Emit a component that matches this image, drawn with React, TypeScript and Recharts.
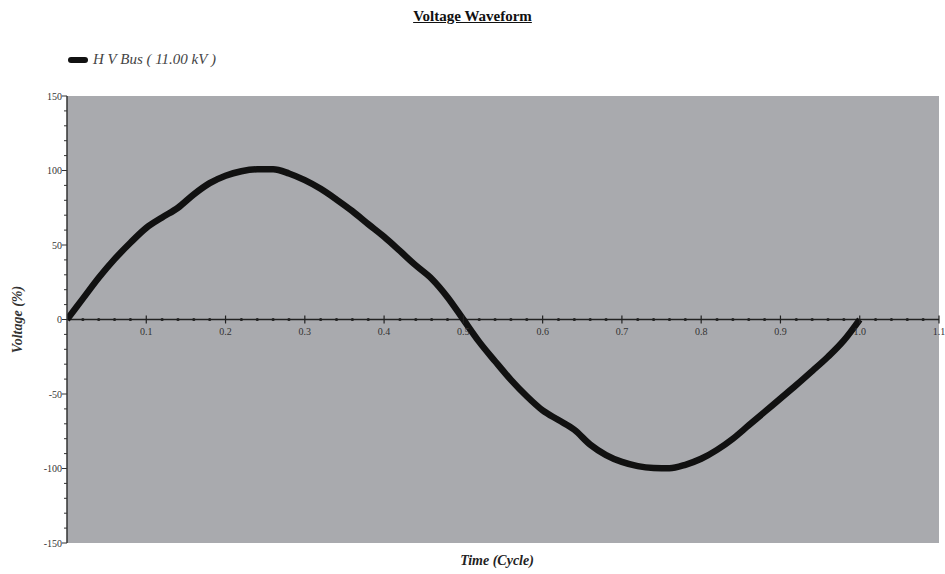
import { LineChart, Line, XAxis, YAxis, CartesianGrid, ReferenceLine } from "recharts"

// time in cycles, voltage in %
const time = [
  0, 0.02, 0.04, 0.06, 0.08, 0.1, 0.12, 0.14, 0.16, 0.18, 0.2, 0.22, 0.24, 0.26, 0.28, 0.3, 0.32,
  0.34, 0.36, 0.38, 0.4, 0.42, 0.44, 0.46, 0.48, 0.5, 0.52, 0.54, 0.56, 0.58, 0.6, 0.62, 0.64,
  0.66, 0.68, 0.7, 0.72, 0.74, 0.76, 0.78, 0.8, 0.82, 0.84, 0.86, 0.88, 0.9, 0.92, 0.94, 0.96,
  0.98, 1.0,
]
const voltage = [
  0, 14, 28, 40.5, 51.5, 61.5, 68.5, 75, 84, 91.5, 96.5, 99.5, 100.8, 100.8, 98, 93.5, 87.7,
  80.5, 72.7, 64, 55.5, 46, 36.3, 27.4, 15, 0, -15, -28, -40.5, -51.5, -61, -67.5, -74,
  -84, -91, -95.6, -98.4, -99.6, -99.8, -97.5, -93.5, -87.5, -80, -71, -62, -53, -44, -34.6, -25,
  -14, 0,
]
const xMajorTicks = [0.1, 0.2, 0.3, 0.4, 0.5, 0.6, 0.7, 0.8, 0.9, 1.0, 1.1]
const yMajorTicks = [-150, -100, -50, 0, 50, 100, 150]
const seriesName = "H V Bus ( 11.00 kV )"

const data = time.map((t, i) => ({ t, v: voltage[i] }))
const xTicks = Array.from({ length: 56 }, (_, i) => +(i * 0.02).toFixed(2))
const yTicks = Array.from({ length: 31 }, (_, i) => -150 + i * 10)

const W = 945
const H = 574
const X_AXIS_H = 31
const MARGIN = { top: 96, right: 6, bottom: 0, left: 0 }
const AXIS_X = 67
const PLOT_H = H - MARGIN.top - MARGIN.bottom - X_AXIS_H
const ZERO_Y = MARGIN.top + PLOT_H / 2
const FONT = "'Liberation Serif', 'Times New Roman', serif"

const XTick = (props: any) => {
  const { x, payload } = props
  const v = payload.value
  const major = xMajorTicks.some((m) => Math.abs(m - v) < 1e-6)
  if (v === 0) return null
  if (!major) return <circle cx={x} cy={ZERO_Y} r={1.6} fill="#222" />
  return (
    <g>
      <line x1={x} x2={x} y1={ZERO_Y - 4} y2={ZERO_Y + 4} stroke="#222" strokeWidth={1.2} />
      <text x={x} y={ZERO_Y + 15} textAnchor="middle" fontSize={10} fontFamily={FONT} fill="#333">
        {v.toFixed(1)}
      </text>
    </g>
  )
}

const YTick = (props: any) => {
  const { y, payload } = props
  const v = payload.value
  const major = yMajorTicks.includes(v)
  return (
    <g>
      <line x1={AXIS_X - (major ? 5 : 3)} x2={AXIS_X} y1={y} y2={y} stroke="#333" strokeWidth={1} />
      {major && (
        <text x={AXIS_X - 5} y={y + 3.5} textAnchor="end" fontSize={10} fontFamily={FONT} fill="#333">
          {v}
        </text>
      )}
    </g>
  )
}

const YTitle = () => (
  <text
    x={22}
    y={ZERO_Y}
    transform={`rotate(-90, 22, ${ZERO_Y})`}
    textAnchor="middle"
    fontSize={14}
    fontStyle="italic"
    fontWeight="bold"
    fontFamily={FONT}
    fill="#333"
  >
    Voltage (%)
  </text>
)

const XTitle = () => (
  <text
    x={497}
    y={565}
    textAnchor="middle"
    fontSize={14}
    fontStyle="italic"
    fontWeight="bold"
    fontFamily={FONT}
    fill="#222"
  >
    Time (Cycle)
  </text>
)

export default function App() {
  return (
    <div style={{ position: "absolute", left: 0, top: 0, width: W, height: H, background: "#fff" }}>
      <div
        style={{
          position: "absolute",
          top: 8,
          left: 0,
          width: W,
          textAlign: "center",
          fontFamily: FONT,
          fontWeight: "bold",
          fontSize: 15,
          textDecoration: "underline",
          color: "#111",
        }}
      >
        Voltage Waveform
      </div>
      <div
        style={{
          position: "absolute",
          top: 51,
          left: 68,
          display: "flex",
          alignItems: "center",
          fontFamily: FONT,
          fontStyle: "italic",
          fontSize: 15,
          color: "#444",
        }}
      >
        <svg width={20} height={10}>
          <line x1={3} x2={17} y1={5} y2={5} stroke="#111" strokeWidth={6} strokeLinecap="round" />
        </svg>
        <span style={{ marginLeft: 5 }}>{seriesName}</span>
      </div>
      <div style={{ position: "absolute", left: 0, top: 0 }}>
        <LineChart width={W} height={H} data={data} margin={MARGIN}>
          <CartesianGrid horizontal={false} vertical={false} fill="#a9aaae" />
          <XAxis
            type="number"
            dataKey="t"
            domain={[0, 1.1]}
            ticks={xTicks}
            interval={0}
            axisLine={false}
            tickLine={false}
            tick={<XTick />}
            height={X_AXIS_H}
            allowDataOverflow
            label={<XTitle />}
          />
          <YAxis
            type="number"
            domain={[-150, 150]}
            ticks={yTicks}
            interval={0}
            width={AXIS_X}
            axisLine={{ stroke: "#333", strokeWidth: 1.5 }}
            tickLine={false}
            tick={<YTick />}
            label={<YTitle />}
          />
          <ReferenceLine y={0} stroke="#222" strokeWidth={1.5} />
          <Line
            type="monotone"
            dataKey="v"
            name={seriesName}
            stroke="#111"
            strokeWidth={6.5}
            dot={false}
            isAnimationActive={false}
          />
        </LineChart>
      </div>
    </div>
  )
}
